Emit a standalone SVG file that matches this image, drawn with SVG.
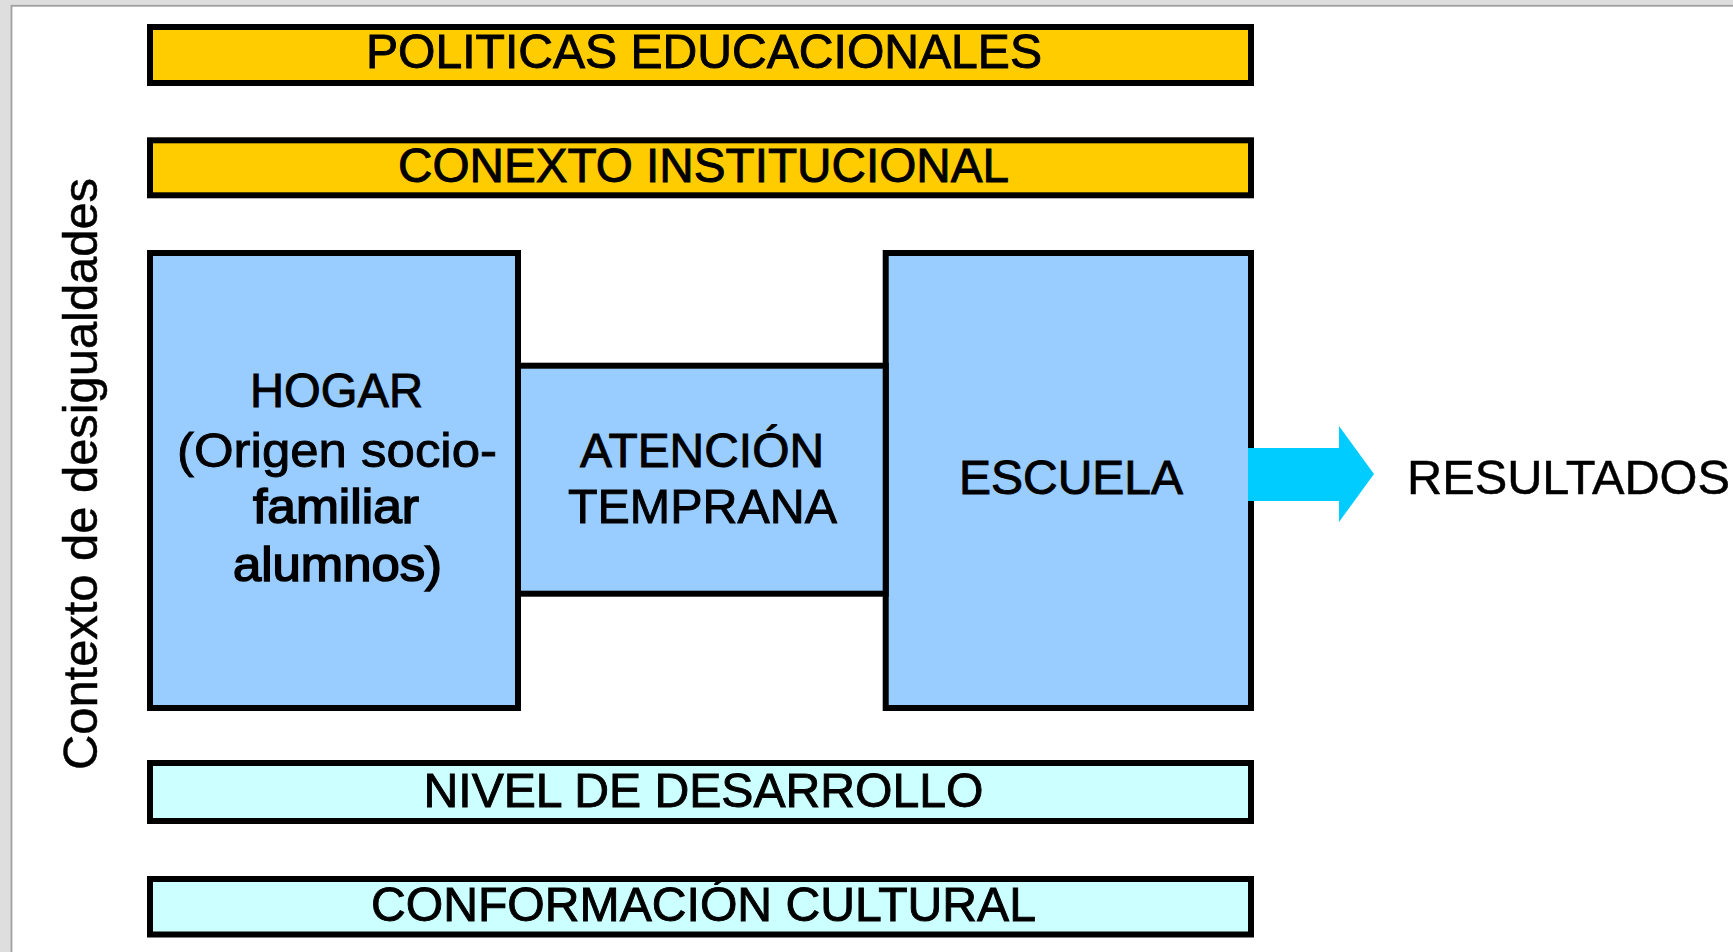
<svg xmlns="http://www.w3.org/2000/svg" width="1733" height="952" viewBox="0 0 1733 952">
<style>
.box{stroke:#000;stroke-width:6}
.yel{fill:#FFCC00}
.blu{fill:#99CCFF}
.cya{fill:#CCFFFF}
.t{font-family:"Liberation Sans",Arial,sans-serif;font-size:48px;fill:#000;stroke:#000;stroke-width:0.9;text-anchor:middle}
</style>
<rect x="0" y="0" width="1733" height="952" fill="#DEDEDE"/>
<rect x="11.5" y="5.8" width="1730" height="960" fill="#FFFFFF" stroke="#A0A0A0" stroke-width="1.8"/>
<g id="contexto">
<text class="t" transform="translate(97,474) rotate(-90)" textLength="592" lengthAdjust="spacingAndGlyphs" style="stroke-width:0.5">Contexto de desigualdades</text>
</g>
<g id="politicas">
<rect class="box yel" x="150" y="27" width="1101" height="56"/>
<text class="t" x="704" y="68.3" textLength="676" lengthAdjust="spacingAndGlyphs">POLITICAS EDUCACIONALES</text>
</g>
<g id="conexto">
<rect class="box yel" x="150" y="140.3" width="1101" height="55"/>
<text class="t" x="703.5" y="181.7" textLength="611" lengthAdjust="spacingAndGlyphs">CONEXTO INSTITUCIONAL</text>
</g>
<g id="hogar">
<rect class="box blu" x="150" y="253" width="368" height="455"/>
<text class="t" x="336.5" y="406.7" textLength="173" lengthAdjust="spacingAndGlyphs">HOGAR</text>
<text class="t" x="337" y="466.7" textLength="320" lengthAdjust="spacingAndGlyphs">(Origen socio-</text>
<text class="t" x="336" y="522.7" textLength="166" lengthAdjust="spacingAndGlyphs" style="stroke-width:1.6">familiar</text>
<text class="t" x="337.5" y="580.7" textLength="209" lengthAdjust="spacingAndGlyphs" style="stroke-width:1.6">alumnos)</text>
</g>
<g id="escuela">
<rect class="box blu" x="885.7" y="253" width="365.3" height="455"/>
<text class="t" x="1071" y="494" textLength="224" lengthAdjust="spacingAndGlyphs">ESCUELA</text>
</g>
<g id="atencion">
<rect class="box blu" x="518" y="365.7" width="367.7" height="228"/>
<text class="t" x="702" y="466.7" textLength="244" lengthAdjust="spacingAndGlyphs">ATENCIÓN</text>
<text class="t" x="702.5" y="522.7" textLength="269" lengthAdjust="spacingAndGlyphs">TEMPRANA</text>
</g>
<g id="nivel">
<rect class="box cya" x="150" y="763" width="1101" height="58"/>
<text class="t" x="703.5" y="807.3" textLength="560" lengthAdjust="spacingAndGlyphs">NIVEL DE DESARROLLO</text>
</g>
<g id="conformacion">
<rect class="box cya" x="150" y="879" width="1101" height="55.5"/>
<text class="t" x="703.5" y="920.7" textLength="665" lengthAdjust="spacingAndGlyphs">CONFORMACIÓN CULTURAL</text>
</g>
<g id="connectors">
<polygon points="1248,448 1339,448 1339,426 1374,474 1339,522 1339,501 1248,501" fill="#00CCFF"/>
</g>
<g id="resultados">
<text class="t" x="1568.5" y="494" textLength="323" lengthAdjust="spacingAndGlyphs" style="stroke-width:0.5">RESULTADOS</text>
</g>
</svg>
